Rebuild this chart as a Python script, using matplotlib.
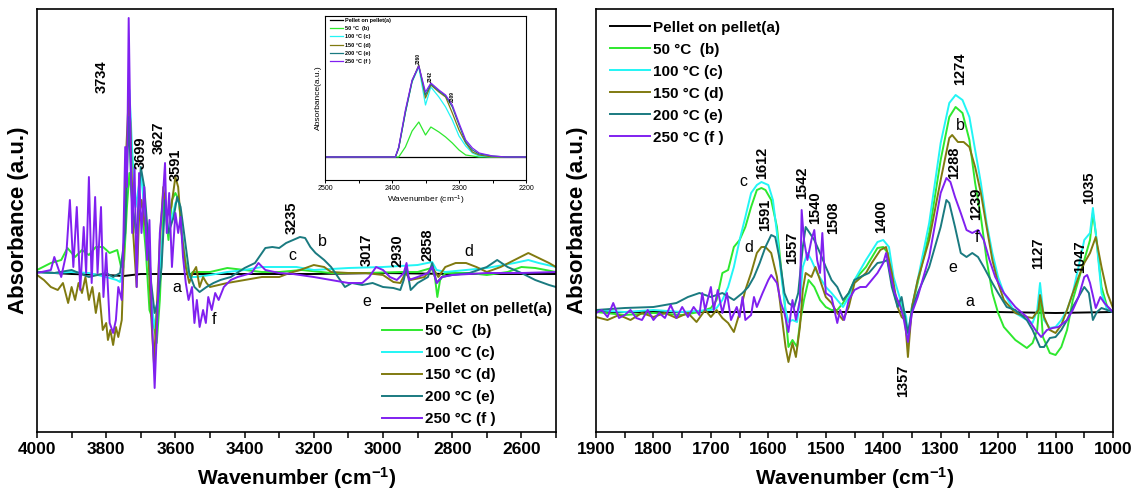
import matplotlib
matplotlib.use("Agg")
import matplotlib.pyplot as plt
from matplotlib.ticker import MultipleLocator

plt.rcParams['font.family'] = ['Liberation Sans', 'DejaVu Sans']
plt.rcParams['mathtext.fontset'] = 'custom'
plt.rcParams['mathtext.rm'] = 'Liberation Sans'
plt.rcParams['mathtext.bf'] = 'Liberation Sans:bold'
plt.rcParams['mathtext.default'] = 'bf'

series_labels = ["Pellet on pellet(a)", "50 \u00b0C  (b)", "100 \u00b0C (c)",
                 "150 \u00b0C (d)", "200 \u00b0C (e)", "250 \u00b0C (f )"]
series_colors = ['#000000', '#2ee82e', '#22f5f5', '#807a10', '#1a7a80', '#8020f0']

# ---- high wavenumber region (4000-2500 cm-1), arbitrary absorbance ----
hi_wn_a = [4000, 3900, 3800, 3750, 3700, 3600, 3500, 3400, 3200, 3000, 2800, 2600, 2500]
hi_abs_a = [2, 0, -1, -2, 0, 0, 0, 0, 0, 1, 0, 0, 0]

hi_wn_b = [4000, 3960, 3930, 3912, 3890, 3870, 3850, 3830, 3809, 3790, 3768, 3757, 3748,
           3740, 3733, 3725, 3715, 3705, 3695, 3685, 3675, 3665, 3654, 3645, 3633, 3620,
           3610, 3600, 3590, 3580, 3570, 3561, 3550, 3500, 3450, 3400, 3350, 3300, 3235,
           3150, 3050, 2950, 2900, 2860, 2850, 2843, 2835, 2820, 2750, 2700, 2640, 2600,
           2560, 2500]
hi_abs_b = [4, 11, 14, 26, 17, 24, 19, 27, 27, 21, 24, 7, 14,
            67, 101, 74, 41, 57, 61, 21, -36, -46, -69, -26, 74, 34,
            74, 81, 74, 34, 11, -3, 2, 2, 6, 4, 2, 2, 4,
            1, 1, 2, 2, 6, -3, -23, -6, 1, 1, -1, 2, 7,
            6, 2]

hi_wn_c = [4000, 3950, 3900, 3850, 3800, 3770, 3760, 3750, 3742, 3733, 3725, 3715, 3700,
           3690, 3680, 3670, 3660, 3650, 3640, 3630, 3620, 3600, 3590, 3580, 3570, 3560,
           3540, 3500, 3450, 3400, 3350, 3250, 3200, 3100, 3000, 2900, 2858, 2845, 2820,
           2700, 2620, 2580, 2550, 2500]
hi_abs_c = [2, 1, 2, 1, -3, -6, -8, 7, 107, 184, 124, 67, 101,
            67, 24, -26, -54, -26, 24, 67, 41, 71, 74, 41, 7, -3,
            -3, -1, 2, 4, 7, 7, 4, 6, 7, 9, 12, 4, 2,
            6, 11, 14, 11, 7]

hi_wn_d = [4000, 3980, 3960, 3940, 3925, 3910, 3900, 3890, 3880, 3870, 3860, 3850, 3840,
           3830, 3820, 3810, 3800, 3795, 3788, 3780, 3772, 3765, 3755, 3750, 3742, 3735,
           3730, 3722, 3712, 3705, 3698, 3690, 3680, 3670, 3662, 3655, 3645, 3635, 3625,
           3612, 3600, 3592, 3582, 3570, 3560, 3550, 3540, 3530, 3520, 3510, 3500, 3450,
           3400, 3350, 3300, 3270, 3240, 3200, 3170, 3150, 3100, 3050, 3000, 2970, 2950,
           2935, 2920, 2880, 2858, 2840, 2820, 2790, 2760, 2730, 2700, 2660, 2620, 2580,
           2550, 2520, 2500]
hi_abs_d = [-1, -6, -13, -16, -9, -29, -13, -26, -9, -19, -3, -26, -13,
            -39, -19, -56, -49, -66, -56, -71, -53, -63, -46, 7, 124, 177,
            151, 41, -13, 57, 74, 54, 34, -43, -89, -43, 34, 87, 57,
            67, 97, 87, 41, 7, -9, 1, 7, -13, -3, -9, -13, -9,
            -6, -3, -3, 1, 4, 9, 7, 2, 1, 1, -1, -8, -9,
            1, -6, -3, 7, -3, 7, 11, 11, 7, 2, 7, 14, 21,
            16, 11, 7]

hi_wn_e = [4000, 3950, 3900, 3850, 3800, 3780, 3760, 3745, 3735, 3725, 3712, 3700, 3690,
           3680, 3670, 3660, 3650, 3640, 3630, 3620, 3605, 3595, 3585, 3575, 3560, 3545,
           3530, 3510, 3490, 3470, 3440, 3400, 3370, 3340, 3320, 3300, 3280, 3260, 3240,
           3225, 3210, 3195, 3170, 3150, 3130, 3110, 3090, 3060, 3030, 3000, 2970, 2950,
           2940, 2932, 2920, 2900, 2870, 2858, 2845, 2830, 2800, 2750, 2700, 2670, 2640,
           2600, 2560, 2520, 2500]
hi_abs_e = [2, 1, 4, -3, 1, -3, 1, 41, 157, 67, 41, 107, 87,
            41, -9, -39, -26, 7, 74, 41, 57, 77, 67, 41, 1, -13,
            -18, -13, -9, -6, -3, 6, 11, 26, 27, 26, 31, 34, 37,
            36, 27, 21, 14, 7, -3, -13, -9, -11, -9, -13, -14, -16,
            -6, 7, -16, -9, -3, 11, -9, -3, -1, 1, 7, 14, 7,
            1, -6, -11, -13]

hi_wn_f = [4000, 3960, 3950, 3930, 3915, 3905, 3895, 3885, 3875, 3865, 3858, 3850, 3842,
           3832, 3825, 3815, 3808, 3800, 3790, 3780, 3772, 3765, 3755, 3750, 3745, 3740,
           3735, 3730, 3725, 3718, 3712, 3705, 3698, 3690, 3682, 3675, 3668, 3660, 3652,
           3645, 3638, 3630, 3625, 3618, 3610, 3600, 3592, 3585, 3578, 3570, 3562, 3552,
           3545, 3538, 3530, 3520, 3512, 3505, 3495, 3485, 3475, 3460, 3440, 3420, 3380,
           3360, 3340, 3300, 3260, 3200, 3150, 3100, 3060, 3040, 3020, 3000, 2980, 2960,
           2940, 2932, 2925, 2900, 2870, 2858, 2845, 2830, 2800, 2700, 2600, 2500]
hi_abs_f = [1, 4, 17, -3, 21, 74, 7, 67, -16, 47, 1, 97, -9,
            77, 1, 67, -23, 21, -49, -59, -46, -13, -26, 41, 127, 87,
            256, 141, 41, 107, -13, 101, 41, 87, 14, 54, -43, -114, -43,
            41, 67, 111, 41, 81, 7, 61, 41, 57, 17, -9, -26, -13,
            -49, -26, -53, -36, -49, -23, -36, -19, -26, -13, -6, -3, 1,
            11, 4, 1, 0, -3, -6, -9, -9, -3, 7, 4, -3, -6,
            1, 11, -6, -3, 1, 7, -9, -3, -1, 1, 1, 2]

# ---- low wavenumber region (1900-1000 cm-1) ----
lo_wn_a = [1900, 1800, 1700, 1600, 1500, 1400, 1300, 1200, 1100, 1000]
lo_abs_a = [0, 0, 0, 0, 0, 0, 0, 0, -1, 0]

lo_wn_b = [1900, 1850, 1800, 1750, 1720, 1700, 1690, 1680, 1670, 1660, 1650, 1640, 1630,
           1620, 1612, 1605, 1595, 1585, 1578, 1572, 1565, 1558, 1550, 1545, 1538, 1530,
           1520, 1510, 1500, 1490, 1480, 1470, 1460, 1450, 1430, 1410, 1400, 1392, 1385,
           1378, 1370, 1362, 1357, 1350, 1340, 1320, 1300, 1285, 1274, 1262, 1250, 1240,
           1230, 1220, 1210, 1200, 1190, 1170, 1150, 1140, 1132, 1127, 1122, 1110, 1100,
           1090, 1080, 1070, 1060, 1050, 1040, 1035, 1030, 1020, 1010, 1000]
lo_abs_b = [0, -3, -1, -3, 0, 4, 12, 39, 42, 65, 72, 85, 105,
            122, 124, 122, 112, 85, 45, 12, -35, -28, -35, -11, 12, 32,
            25, 12, 5, 2, 2, 9, 19, 32, 45, 64, 65, 59, 29,
            12, 9, -5, -31, 5, 29, 79, 152, 195, 205, 199, 172, 129,
            95, 52, 19, -1, -15, -28, -36, -31, -18, 15, -25, -41, -43,
            -35, -18, 12, 32, 52, 72, 99, 79, 25, 5, 0]

lo_wn_c = [1900, 1850, 1800, 1750, 1700, 1690, 1680, 1670, 1660, 1650, 1640, 1630, 1620,
           1612, 1600, 1592, 1585, 1578, 1570, 1565, 1558, 1550, 1545, 1540, 1532, 1525,
           1515, 1500, 1490, 1480, 1470, 1460, 1450, 1430, 1410, 1400, 1390, 1382, 1370,
           1360, 1357, 1350, 1340, 1320, 1300, 1285, 1274, 1262, 1250, 1240, 1230, 1220,
           1210, 1200, 1190, 1170, 1150, 1140, 1132, 1127, 1120, 1110, 1100, 1090, 1080,
           1070, 1060, 1050, 1040, 1035, 1030, 1020, 1010, 1000]
lo_abs_c = [2, 0, 2, 0, 2, 4, 12, 25, 45, 72, 95, 119, 127,
            130, 127, 112, 79, 39, 2, -10, -8, -10, 12, 45, 59, 52,
            39, 25, 19, 12, 5, 15, 32, 52, 70, 72, 65, 35, 12,
            -5, -25, 5, 32, 89, 169, 209, 217, 212, 195, 162, 129, 89,
            59, 35, 19, -1, -8, -11, 2, 29, -8, -16, -15, -8, 2,
            19, 45, 72, 79, 104, 79, 19, 2, 0]

lo_wn_d = [1900, 1880, 1860, 1840, 1820, 1800, 1780, 1760, 1740, 1725, 1710, 1700, 1690,
           1680, 1670, 1660, 1650, 1640, 1630, 1620, 1612, 1605, 1595, 1585, 1578, 1570,
           1565, 1558, 1552, 1545, 1540, 1535, 1525, 1518, 1510, 1500, 1490, 1480, 1470,
           1460, 1450, 1430, 1420, 1405, 1395, 1385, 1375, 1368, 1362, 1357, 1350, 1340,
           1320, 1300, 1285, 1280, 1270, 1260, 1250, 1240, 1230, 1220, 1210, 1200, 1190,
           1170, 1150, 1140, 1130, 1127, 1120, 1110, 1100, 1090, 1080, 1070, 1060, 1050,
           1040, 1030, 1020, 1010, 1000]
lo_abs_d = [-5, -8, -3, -8, -1, -5, -1, -6, -1, -10, 2, -5, 2,
            -6, -11, -20, -1, 22, 39, 59, 65, 65, 59, 35, 2, -35,
            -50, -31, -45, -15, 22, 39, 35, 45, 32, 15, 9, -1, -8,
            5, 29, 39, 49, 62, 65, 39, 5, -5, -8, -45, 5, 32,
            72, 132, 174, 177, 170, 170, 165, 145, 119, 85, 52, 29, 12,
            -1, -5, -6, 2, 17, -5, -18, -21, -13, 2, 19, 35, 49,
            59, 75, 45, 19, 4]

lo_wn_e = [1900, 1850, 1800, 1760, 1740, 1720, 1700, 1680, 1660, 1645, 1635, 1625, 1615,
           1605, 1595, 1588, 1580, 1572, 1565, 1555, 1548, 1540, 1535, 1528, 1520, 1510,
           1500, 1490, 1480, 1470, 1460, 1450, 1440, 1425, 1410, 1400, 1393, 1385, 1375,
           1368, 1362, 1357, 1350, 1340, 1320, 1300, 1290, 1285, 1275, 1265, 1255, 1245,
           1235, 1225, 1210, 1200, 1185, 1170, 1150, 1140, 1127, 1120, 1110, 1100, 1090,
           1080, 1070, 1060, 1050, 1042, 1035, 1028, 1020, 1010, 1000]
lo_abs_e = [2, 4, 5, 9, 15, 19, 15, 19, 12, 19, 25, 35, 49,
            65, 77, 75, 52, 19, 9, 5, 19, 65, 85, 79, 72, 59,
            45, 32, 25, 12, 19, 32, 35, 39, 49, 50, 52, 25, 5,
            15, -5, -21, 2, 19, 45, 85, 112, 109, 85, 59, 55, 59,
            55, 45, 29, 19, 5, 2, -8, -18, -35, -35, -26, -25, -18,
            -8, 5, 15, 25, 19, -8, 0, 4, 2, 0]

lo_wn_f = [1900, 1890, 1880, 1870, 1860, 1850, 1840, 1830, 1820, 1810, 1800, 1790, 1780,
           1770, 1760, 1750, 1740, 1730, 1720, 1715, 1710, 1700, 1695, 1688, 1680, 1672,
           1665, 1655, 1650, 1645, 1640, 1630, 1625, 1620, 1610, 1600, 1595, 1585, 1578,
           1572, 1565, 1558, 1552, 1545, 1542, 1538, 1532, 1525, 1520, 1515, 1510, 1506,
           1500, 1490, 1480, 1475, 1468, 1460, 1450, 1440, 1430, 1420, 1410, 1400, 1395,
           1388, 1380, 1370, 1365, 1357, 1350, 1340, 1320, 1300, 1290, 1283, 1275, 1265,
           1255, 1245, 1235, 1225, 1215, 1205, 1190, 1170, 1150, 1135, 1125, 1115, 1105,
           1095, 1080, 1070, 1060, 1050, 1045, 1040, 1030, 1022, 1015, 1000]
lo_abs_f = [-1, 2, -5, 9, -6, -3, 2, -6, -8, 2, -8, -1, -6,
            7, -6, 5, -5, 5, -3, 19, 2, 25, 2, 22, -1, 19,
            -8, 5, -5, 15, -8, -3, 15, 5, 19, 32, 37, 29, 9,
            -1, -20, 12, -8, 12, 102, 72, 52, 72, 82, 52, 39, 79,
            19, 15, -11, 2, -8, 12, 22, 25, 25, 32, 39, 49, 59,
            39, 19, 5, -5, -30, -1, 15, 55, 119, 134, 130, 115, 99,
            82, 79, 82, 72, 52, 35, 19, 5, -5, -18, -25, -18, -16,
            -15, -8, 2, 15, 35, 37, 29, 4, 15, 9, 0]

# ---- inset: CO2 region (2500-2200 cm-1) ----
ins_wn = [2500, 2400, 2395, 2390, 2380, 2370, 2360, 2350, 2342, 2330, 2320, 2310, 2300,
          2290, 2280, 2270, 2250, 2230, 2200]
ins_abs_a = [0] * len(ins_wn)
ins_abs_b = [0, 0, 0, 0, 10, 26, 35, 22, 30, 25, 20, 14, 7, 2, 1, 0, 0, 0, 0]
ins_abs_c = [0, 0, 0, 9, 44, 75, 90, 52, 70, 60, 50, 37, 21, 11, 4, 1, 0, 0, 0]
ins_abs_d = [0, 0, 0, 9, 45, 76, 92, 59, 72, 65, 60, 44, 27, 14, 5, 2, 0, 0, 0]
ins_abs_e = [0, 0, 0, 9, 45, 76, 91, 62, 73, 66, 61, 50, 32, 15, 7, 3, 1, 0, 0]
ins_abs_f = [0, 0, 0, 10, 47, 77, 91, 65, 74, 67, 62, 52, 34, 17, 9, 4, 1, 0, 0]


def style_axis(ax, major, minor, size):
    ax.xaxis.set_major_locator(MultipleLocator(major))
    ax.xaxis.set_minor_locator(MultipleLocator(minor))
    ax.tick_params(axis='x', which='major', direction='out', length=4, width=1.1,
                   labelsize=size, pad=3)
    ax.tick_params(axis='x', which='minor', direction='out', length=4, width=1.1)
    ax.set_yticks([])
    for lab in ax.get_xticklabels():
        lab.set_fontweight('bold')
    for sp in ax.spines.values():
        sp.set_linewidth(1.2)


def main():
    fig = plt.figure(figsize=(11.32, 5.0), dpi=100)
    ax1 = fig.add_axes([37 / 1132, 68 / 500, 519 / 1132, 423 / 500])
    ax2 = fig.add_axes([596 / 1132, 68 / 500, 517 / 1132, 423 / 500])

    hi = [(hi_wn_a, hi_abs_a), (hi_wn_b, hi_abs_b), (hi_wn_c, hi_abs_c),
          (hi_wn_d, hi_abs_d), (hi_wn_e, hi_abs_e), (hi_wn_f, hi_abs_f)]
    lo = [(lo_wn_a, lo_abs_a), (lo_wn_b, lo_abs_b), (lo_wn_c, lo_abs_c),
          (lo_wn_d, lo_abs_d), (lo_wn_e, lo_abs_e), (lo_wn_f, lo_abs_f)]
    ins = [ins_abs_a, ins_abs_b, ins_abs_c, ins_abs_d, ins_abs_e, ins_abs_f]

    for (x, y), lab, col in zip(hi, series_labels, series_colors):
        ax1.plot(x, y, color=col, lw=1.4, label=lab)
    for (x, y), lab, col in zip(lo, series_labels, series_colors):
        ax2.plot(x, y, color=col, lw=1.4, label=lab)

    ax1.set_xlim(4000, 2500)
    ax1.set_ylim(-158, 265)
    ax2.set_xlim(1900, 1000)
    ax2.set_ylim(-120, 303)
    style_axis(ax1, 200, 100, 12.5)
    style_axis(ax2, 100, 50, 12.5)

    for ax in (ax1, ax2):
        ax.set_xlabel(r'Wavenumber (cm$^{-1}$)', fontsize=15, fontweight='bold', labelpad=6)
        ax.set_ylabel('Absorbance (a.u.)', fontsize=16, fontweight='bold', labelpad=6)

    leg_kw = dict(frameon=False, borderaxespad=0, borderpad=0, handlelength=2.6,
                  handletextpad=0.2, labelspacing=0.52,
                  prop={'size': 11, 'weight': 'bold'})
    ax1.legend(loc='upper left', bbox_to_anchor=(0.665, 0.307), **leg_kw)
    ax2.legend(loc='upper left', bbox_to_anchor=(0.027, 0.972), **leg_kw)

    # peak positions, left panel
    for txt, x, y in [('3734', 3814, 197), ('3699', 3700, 121), ('3627', 3647, 136),
                      ('3591', 3599, 109), ('3235', 3263, 56), ('3017', 3047, 24),
                      ('2930', 2959, 23), ('2858', 2870, 29)]:
        ax1.text(x, y, txt, rotation=90, fontsize=10.5, fontweight='bold',
                 ha='center', va='center')
    for txt, x, y in [('a', 3595, -13), ('b', 3174, 33), ('c', 3263, 19),
                      ('d', 2753, 22), ('e', 3048, -28), ('f', 3487, -45)]:
        ax1.text(x, y, txt, fontsize=11.5, ha='center', va='center')

    # peak positions, right panel
    for txt, x, y in [('1612', 1610, 149), ('1591', 1605, 97), ('1557', 1558, 64),
                      ('1542', 1541, 129), ('1540', 1518, 104), ('1508', 1487, 94),
                      ('1400', 1404, 95), ('1357', 1366, -69), ('1274', 1266, 243),
                      ('1288', 1277, 149), ('1239', 1239, 108), ('1127', 1131, 59),
                      ('1047', 1058, 55), ('1035', 1041, 124)]:
        ax2.text(x, y, txt, rotation=90, fontsize=10.5, fontweight='bold',
                 ha='center', va='center')
    for txt, x, y in [('c', 1643, 130), ('d', 1634, 64), ('b', 1266, 186),
                      ('f', 1237, 74), ('e', 1279, 45), ('a', 1250, 10)]:
        ax2.text(x, y, txt, fontsize=11.5, ha='center', va='center')

    # inset
    axi = fig.add_axes([325 / 1132, 320 / 500, 201 / 1132, 164 / 500])
    for y, lab, col in zip(ins, series_labels, series_colors):
        axi.plot(ins_wn, y, color=col, lw=0.9, label=lab)
    axi.set_xlim(2500, 2200)
    axi.set_ylim(-23, 141)
    axi.xaxis.set_major_locator(MultipleLocator(100))
    axi.xaxis.set_minor_locator(MultipleLocator(50))
    axi.tick_params(axis='x', which='both', direction='out', length=2, width=0.7,
                    labelsize=5, pad=1.5)
    axi.set_yticks([])
    for sp in axi.spines.values():
        sp.set_linewidth(0.8)
    axi.set_xlabel(r'Wavenumber (cm$^{\mathrm{-1}}$)', fontsize=6, labelpad=1)
    axi.set_ylabel('Absorbance(a.u.)', fontsize=6, labelpad=2)
    axi.legend(loc='upper left', bbox_to_anchor=(0.025, 0.99), frameon=False,
               borderaxespad=0, borderpad=0, handlelength=2.3, handletextpad=0.4,
               labelspacing=0.6, prop={'size': 4, 'weight': 'bold'})
    for txt, x, y in [('2360', 2361, 98), ('2342', 2343, 80), ('2309', 2310, 60)]:
        axi.text(x, y, txt, rotation=90, fontsize=3.5, fontweight='bold',
                 ha='center', va='center')

    fig.savefig('out.png', dpi=100)
    plt.close(fig)


if __name__ == "__main__":
    main()
